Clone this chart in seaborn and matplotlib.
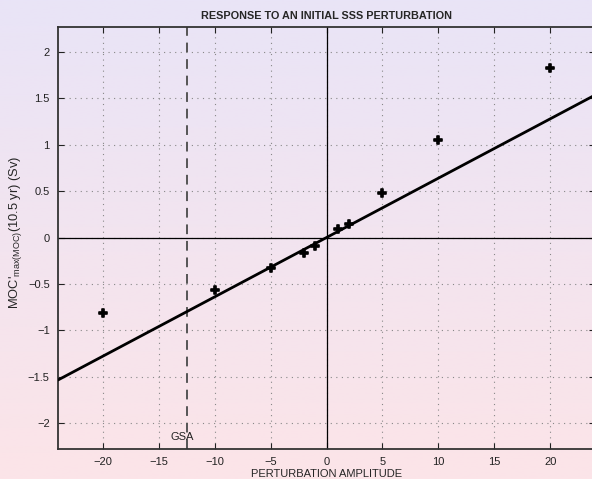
import numpy as np
import pandas as pd
import seaborn as sns
import matplotlib.pyplot as plt
from matplotlib.colors import LinearSegmentedColormap

amplitude = [-20, -10, -5, -2, -1, 1, 2, 5, 10, 20]
moc_response = [-0.81, -0.57, -0.33, -0.17, -0.09, 0.09, 0.15, 0.48, 1.05, 1.83]
fit_slope = 0.064
gsa_amplitude = -12.5

x_ticks = [-20, -15, -10, -5, 0, 5, 10, 15, 20]
y_ticks = [-2, -1.5, -1, -0.5, 0, 0.5, 1, 1.5, 2]

df = pd.DataFrame({"amplitude": amplitude, "moc": moc_response})

sns.set_style("ticks")
plt.rcParams["font.family"] = ["Liberation Sans", "DejaVu Sans"]
plt.rcParams["mathtext.fontset"] = "custom"
plt.rcParams["mathtext.rm"] = "Liberation Sans"

fig = plt.figure(figsize=(5.92, 4.79), dpi=100)

# background gradient, lavender at top to pink at bottom
bg = fig.add_axes([0, 0, 1, 1], zorder=-10)
grad = LinearSegmentedColormap.from_list("bg", ["#e9e4f7", "#fce4e8"])
bg.imshow(np.linspace(0, 1, 256).reshape(-1, 1), aspect="auto", cmap=grad,
          extent=[0, 1, 0, 1])
bg.set_axis_off()

ax = fig.add_axes([58 / 592, 30 / 479, 537 / 592, 422 / 479])
ax.patch.set_alpha(0)

ax.axhline(0, color="black", lw=0.9, zorder=2)
ax.axvline(0, color="black", lw=0.9, zorder=2)
ax.axline((0, 0), slope=fit_slope, color="black", lw=2, zorder=3)
ax.axvline(gsa_amplitude, color="#555555", lw=1.4, ls=(0, (5, 3.5)), zorder=2)

sns.scatterplot(data=df, x="amplitude", y="moc", marker="P", s=38,
                color="black", edgecolor="black", linewidth=1.2, ax=ax, zorder=4)

ax.text(gsa_amplitude - 0.4, -2.15, "GSA", ha="center", va="center",
        fontsize=8, color="#222222")

ax.set_xlim(-24, 24)
ax.set_ylim(-2.28, 2.27)
ax.set_xticks(x_ticks)
ax.set_yticks(y_ticks)
ax.set_xticklabels([f"{t:g}".replace("-", "\u2212") for t in x_ticks])
ax.set_yticklabels([f"{t:g}".replace("-", "\u2212") for t in y_ticks])
ax.grid(True, ls=(0, (1, 4)), color="#888888", lw=0.8)
ax.tick_params(direction="in", length=4, width=0.8, top=True, right=True,
               labelsize=8, colors="#222222", pad=6)
for s in ["left", "top", "bottom", "right"]:
    ax.spines[s].set_linewidth(1.3)
    ax.spines[s].set_color("#333333")

ax.set_title("RESPONSE TO AN INITIAL SSS PERTURBATION", fontsize=7.8,
             fontweight="bold", pad=6)
ax.set_xlabel("PERTURBATION AMPLITUDE", fontsize=8, labelpad=1)
ax.set_ylabel(r"MOC'$_{\mathrm{max(MOC)}}$(10.5 yr) (Sv)", fontsize=9.3)
ax.yaxis.set_label_coords(-34 / 537, 0.514)

fig.savefig("out.png", dpi=100)
